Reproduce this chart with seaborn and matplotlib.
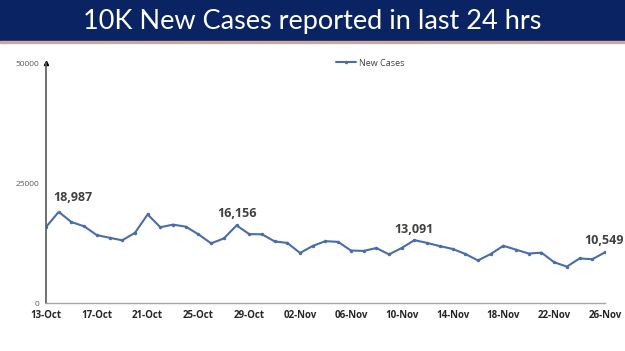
import pandas as pd
import seaborn as sns
import matplotlib.pyplot as plt
import matplotlib.dates as mdates
from matplotlib.patches import Rectangle

# Data (India daily new cases)
start_date = "2021-10-13"
end_date = "2021-11-26"
new_cases = [15823, 18987, 16862, 15981, 14146, 13596, 13058, 14623, 18454, 15786,
             16326, 15906, 14306, 12428, 13451, 16156, 14348, 14313, 12830, 12514,
             10423, 11903, 12885, 12729, 10929, 10853, 11451, 10126, 11466, 13091,
             12516, 11850, 11271, 10229, 8865, 10197, 11919, 11106, 10302, 10488,
             8488, 7579, 9283, 9119, 10549]
highlight_idx = [1, 15, 29, 44]
highlight_offsets = [(14, 14), (0, 12), (0, 11), (-1, 12)]
y_ticks = [0, 25000, 50000]
title = "10K New Cases reported in last 24 hrs"

df = pd.DataFrame({"Date": pd.date_range(start_date, end_date), "New Cases": new_cases})

sns.set_style("white")
plt.rcParams["font.family"] = ["Open Sans", "DejaVu Sans"]

line_color = "#4a6da7"
fig = plt.figure(figsize=(6.25, 3.51), dpi=100)

# Header banner
fig.patches.append(Rectangle((0, 1 - 41 / 351), 1, 41 / 351, transform=fig.transFigure,
                             color="#0a2463", zorder=0))
fig.patches.append(Rectangle((0, 1 - 43 / 351), 1, 2 / 351, transform=fig.transFigure,
                             color="#c9a9a0", zorder=0))
fig.text(0.5, 1 - 21 / 351, title, ha="center", va="center", color="white",
         fontsize=19.5, family=["Lato", "DejaVu Sans"])

ax = fig.add_axes([46 / 625, 1 - 303 / 351, (605 - 46) / 625, (303 - 63) / 351])
sns.lineplot(data=df, x="Date", y="New Cases", ax=ax, color=line_color, lw=1.5,
             marker="o", markersize=2.5, markeredgewidth=0, label="New Cases")

ax.set_xlim(df["Date"].iloc[0], df["Date"].iloc[-1])
ax.set_ylim(0, 50000)
ax.set_yticks(y_ticks)
ax.set_yticklabels([str(v) for v in y_ticks], fontsize=6, color="#595959")
ax.set_xticks(df["Date"].iloc[::4])
ax.xaxis.set_major_formatter(mdates.DateFormatter("%d-%b"))
for lbl in ax.get_xticklabels():
    lbl.set_fontsize(7)
    lbl.set_fontweight("bold")
    lbl.set_color("#262626")
ax.tick_params(axis="x", length=3, width=0.8, color="#7f7f7f", pad=2)
ax.tick_params(axis="y", length=2, width=0.6, color="#7f7f7f", pad=3)
ax.set_xlabel("")
ax.set_ylabel("")

for s in ["top", "right"]:
    ax.spines[s].set_visible(False)
ax.spines["left"].set_color("#595959")
ax.spines["left"].set_linewidth(1.2)
ax.spines["bottom"].set_color("#a6a6a6")
ax.spines["bottom"].set_linewidth(1.0)
ax.plot(0, 1, marker="^", transform=ax.transAxes, clip_on=False, color="black", markersize=3)

# Value labels (first one has a faint leader line)
for n, (i, (dx, dy)) in enumerate(zip(highlight_idx, highlight_offsets)):
    arrow = dict(arrowstyle="-", color="#d0d0d0", lw=0.6, shrinkA=4, shrinkB=1) if n == 0 else None
    ax.annotate(f"{new_cases[i]:,}", (df["Date"].iloc[i], new_cases[i]),
                xytext=(dx, dy), textcoords="offset pixels", ha="center", va="center",
                fontsize=9, fontweight="bold", color="#404040", annotation_clip=False,
                arrowprops=arrow)

leg = ax.legend(loc="center", bbox_to_anchor=(0.58, 1.0), frameon=False,
                fontsize=6.5, handlelength=2.2, handletextpad=0.3)
for t in leg.get_texts():
    t.set_color("#404040")

plt.savefig("out.png", dpi=100)
